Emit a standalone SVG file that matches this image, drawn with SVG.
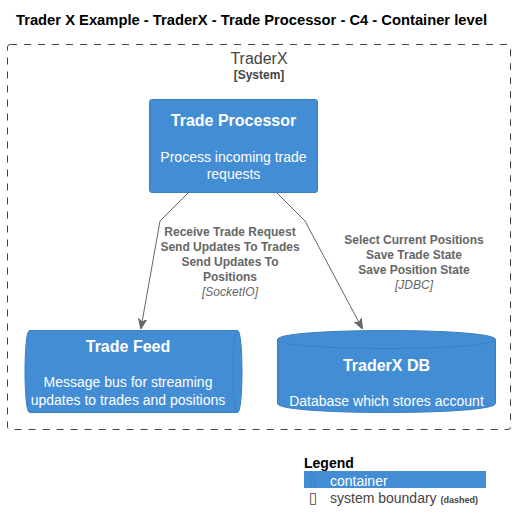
<svg xmlns="http://www.w3.org/2000/svg" width="516" height="532" viewBox="0 0 516 532">
<defs>
<style>
.t{font-family:"Liberation Sans",Arial,sans-serif}
.title{font-size:14px;font-weight:bold;fill:#000}
.box{fill:#438DD5;stroke:#3C7FC0;stroke-width:1}
.nt{font-size:16px;font-weight:bold;fill:#fff;text-anchor:middle}
.nd{font-size:14px;fill:#fff;text-anchor:middle}
.lbl{font-size:12px;font-weight:bold;fill:#666;text-anchor:middle}
.tech{font-size:12px;font-style:italic;fill:#666;text-anchor:middle}
.edge{fill:none;stroke:#666;stroke-width:1}
.glyph{font-family:"DejaVu Sans",sans-serif;font-size:15px}
</style>
<marker id="arr" viewBox="0 0 10 10" refX="9" refY="5" markerWidth="10" markerHeight="10" orient="auto" markerUnits="userSpaceOnUse">
<path d="M0,1 L10,5 L0,9 L3,5 Z" fill="#666" stroke="#666"/>
</marker>
</defs>
<rect width="516" height="532" fill="#fff"/>
<text class="t title" x="16" y="25" textLength="471" lengthAdjust="spacingAndGlyphs">Trader X Example - TraderX - Trade Processor - C4 - Container level</text>

<g id="boundary">
<rect x="7.5" y="44.5" width="503" height="385" rx="2.5" fill="none" stroke="#444" stroke-width="1" stroke-dasharray="7,7"/>
<text class="t" x="259" y="64" font-size="16" fill="#444" text-anchor="middle">TraderX</text>
<text class="t" x="259" y="79" font-size="12" font-weight="bold" fill="#444" text-anchor="middle">[System]</text>
</g>

<g id="trade-processor">
<rect class="box" x="149.5" y="99.5" width="168" height="93" rx="2.5"/>
<text class="t nt" x="233.5" y="126">Trade Processor</text>
<text class="t nd" x="233.5" y="162">Process incoming trade</text>
<text class="t nd" x="233.5" y="179">requests</text>
</g>

<g id="trade-feed">
<path class="box" d="M29.5,330.5 L237.5,330.5 C243.5,330.5 243.5,412.5 237.5,412.5 L29.5,412.5 C23.5,412.5 23.5,330.5 29.5,330.5 Z"/>
<path d="M237.5,330.5 C231.5,330.5 231.5,412.5 237.5,412.5" fill="none" stroke="#3C7FC0"/>
<text class="t nt" x="128" y="352">Trade Feed</text>
<text class="t nd" x="128" y="387">Message bus for streaming</text>
<text class="t nd" x="128" y="405">updates to trades and positions</text>
</g>

<g id="traderx-db">
<path class="box" d="M277.5,339.5 C277.5,327.5 495.5,327.5 495.5,339.5 L495.5,403.5 C495.5,415.5 277.5,415.5 277.5,403.5 Z"/>
<path d="M277.5,339.5 C277.5,351.5 495.5,351.5 495.5,339.5" fill="none" stroke="#3C7FC0"/>
<text class="t nt" x="386.5" y="371">TraderX DB</text>
<text class="t nd" x="386.5" y="406">Database which stores account</text>
</g>

<g id="connectors">
<polyline class="edge" points="189,192 160,221 141,328" marker-end="url(#arr)"/>
<polyline class="edge" points="276,192 305,221 362,328" marker-end="url(#arr)"/>
<text class="t lbl" x="230" y="236">Receive Trade Request</text>
<text class="t lbl" x="230" y="251">Send Updates To Trades</text>
<text class="t lbl" x="230" y="266">Send Updates To</text>
<text class="t lbl" x="230" y="281">Positions</text>
<text class="t tech" x="230" y="296">[SocketIO]</text>
<text class="t lbl" x="414" y="244">Select Current Positions</text>
<text class="t lbl" x="414" y="259">Save Trade State</text>
<text class="t lbl" x="414" y="274">Save Position State</text>
<text class="t tech" x="414" y="289">[JDBC]</text>
</g>

<g id="legend">
<text class="t" x="304" y="468" font-size="14" font-weight="bold" fill="#000">Legend</text>
<rect x="304" y="471" width="182" height="17" fill="#438DD5"/>
<text class="glyph" x="309" y="486" fill="#3C7FC0">▯</text>
<text class="t" x="330" y="486" font-size="14" fill="#fff">container</text>
<text class="glyph" x="309" y="503" fill="#444">▯</text>
<text class="t" x="330" y="503" font-size="14" fill="#444">system boundary <tspan font-size="9" font-weight="bold">(dashed)</tspan></text>
</g>
</svg>
